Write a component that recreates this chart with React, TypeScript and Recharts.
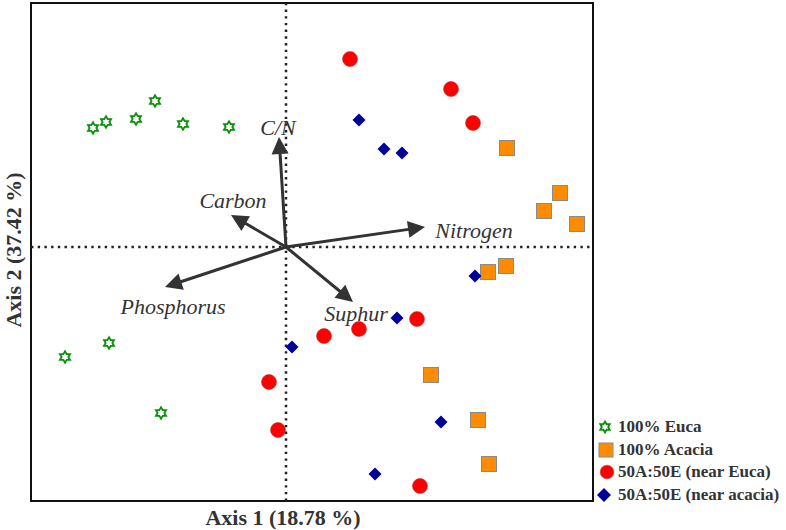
import { ScatterChart, Scatter, XAxis, YAxis, ReferenceLine, ReferenceDot, ReferenceArea, Legend } from 'recharts'

// PCA scores
const euca = [
  { x: -1.93, y: 1.19 }, { x: -1.80, y: 1.25 }, { x: -1.50, y: 1.28 },
  { x: -1.31, y: 1.46 }, { x: -1.03, y: 1.23 }, { x: -0.57, y: 1.20 },
  { x: -2.21, y: -1.10 }, { x: -1.77, y: -0.96 }, { x: -1.25, y: -1.66 }
]
const acacia = [
  { x: 2.21, y: 0.99 }, { x: 2.74, y: 0.54 }, { x: 2.58, y: 0.36 },
  { x: 2.91, y: 0.23 }, { x: 2.02, y: -0.25 }, { x: 2.20, y: -0.19 },
  { x: 1.45, y: -1.28 }, { x: 1.92, y: -1.73 }, { x: 2.03, y: -2.17 }
]
const nearEuca = [
  { x: 0.64, y: 1.88 }, { x: 1.65, y: 1.58 }, { x: 1.87, y: 1.24 },
  { x: 0.38, y: -0.89 }, { x: 0.73, y: -0.82 }, { x: 1.31, y: -0.72 },
  { x: 1.34, y: -2.39 }, { x: -0.17, y: -1.35 }, { x: -0.08, y: -1.83 }
]
const nearAcacia = [
  { x: 0.73, y: 1.27 }, { x: 0.98, y: 0.98 }, { x: 1.16, y: 0.94 },
  { x: 1.89, y: -0.29 }, { x: 1.11, y: -0.71 }, { x: 0.06, y: -1.00 },
  { x: 1.55, y: -1.75 }, { x: 0.89, y: -2.27 }
]

const seriesNames = ['100% Euca', '100% Acacia', '50A:50E (near Euca)', '50A:50E (near acacia)']

// variable loadings (arrow tips)
const vectors = [
  { name: 'C/N', x: -0.07, y: 1.10 },
  { name: 'Carbon', x: -0.55, y: 0.32 },
  { name: 'Nitrogen', x: 1.39, y: 0.20 },
  { name: 'Phosphorus', x: -1.21, y: -0.40 },
  { name: 'Suphur', x: 0.67, y: -0.55 }
]
const vectorLabelAt = [
  { x: -0.08, y: 1.20 },
  { x: -0.53, y: 0.47 },
  { x: 1.88, y: 0.17 },
  { x: -1.13, y: -0.59 },
  { x: 0.70, y: -0.66 }
]

const xDomain = [-2.55, 3.07]
const yDomain = [-2.54, 2.44]

const serif = '"Liberation Serif", "Times New Roman", serif'
const ink = '#333'

const starPoints = (cx: number, cy: number, R: number) => {
  const pts: string[] = []
  for (let k = 0; k < 12; k++) {
    const a = (-90 + k * 30) * Math.PI / 180
    const r = k % 2 === 0 ? R : R * 0.58
    pts.push(`${cx + r * Math.cos(a)},${cy + r * Math.sin(a)}`)
  }
  return pts.join(' ')
}

const StarShape = ({ cx, cy }: any) => (
  <polygon points={starPoints(cx, cy, 5.8)} fill="#fff" stroke="#0a8f0a" strokeWidth={1.8} />
)
const SquareShape = ({ cx, cy }: any) => (
  <rect x={cx - 7.5} y={cy - 7.5} width={15} height={15} fill="#ff8c00" stroke="#8a8a8a" strokeWidth={1} />
)
const CircleShape = ({ cx, cy }: any) => (
  <circle cx={cx} cy={cy} r={7.5} fill="#ff0000" stroke="#b33" strokeWidth={0.6} />
)
const DiamondShape = ({ cx, cy }: any) => (
  <polygon points={`${cx},${cy - 6.5} ${cx + 6.5},${cy} ${cx},${cy + 6.5} ${cx - 6.5},${cy}`} fill="#00009c" />
)

const Arrow = (p: any) => {
  const { x1, y1, x2, y2 } = p
  const dx = x2 - x1
  const dy = y2 - y1
  const len = Math.hypot(dx, dy) || 1
  const ux = dx / len
  const uy = dy / len
  const L = 17
  const W = 8.5
  const bx = x2 - ux * L
  const by = y2 - uy * L
  const pts = `${x2},${y2} ${bx - uy * W},${by + ux * W} ${bx + uy * W},${by - ux * W}`
  return (
    <g>
      <line x1={x1} y1={y1} x2={bx + ux * 2} y2={by + uy * 2} stroke={ink} strokeWidth={3} />
      <polygon points={pts} fill={ink} />
    </g>
  )
}

const VectorLabel = (text: string) => (p: any) => (
  <text x={p.cx} y={p.cy} textAnchor="middle" dominantBaseline="central"
    fontFamily={serif} fontStyle="italic" fontSize={22} fill={ink}>{text}</text>
)

const XTitle = () => (
  <text x={283} y={525} textAnchor="middle" fontFamily={serif} fontWeight="bold" fontSize={22} fill={ink}>
    Axis 1 (18.78 %)
  </text>
)
const YTitle = () => (
  <text x={21} y={250} textAnchor="middle" transform="rotate(-90 21 250)"
    fontFamily={serif} fontWeight="bold" fontSize={22} fill={ink}>
    Axis 2 (37.42 %)
  </text>
)

const legendMarker = (name: string) => {
  if (name === '100% Euca') return <polygon points={starPoints(9, 11, 5.5)} fill="#fff" stroke="#0a8f0a" strokeWidth={1.8} />
  if (name === '100% Acacia') return <rect x={3} y={4} width={14} height={14} fill="#ff8c00" stroke="#8a8a8a" strokeWidth={1} />
  if (name === '50A:50E (near Euca)') return <circle cx={11} cy={11} r={6.8} fill="#ff0000" stroke="#b33" strokeWidth={0.6} />
  return <polygon points="8,4 15,11 8,18 1,11" fill="#00009c" />
}

const renderLegend = () => (
  <div style={{ fontFamily: serif, fontWeight: 'bold', fontSize: 17, color: ink }}>
    {seriesNames.map(name => (
      <div key={name} style={{ display: 'flex', alignItems: 'center', height: 22.6, whiteSpace: 'nowrap' }}>
        <svg width={21} height={22} style={{ flex: 'none' }}>{legendMarker(name)}</svg>
        <span style={{ marginLeft: 1 }}>{name}</span>
      </div>
    ))}
  </div>
)

export default function App() {
  return (
    <div style={{ position: 'absolute', left: 0, top: 0 }}>
      <ScatterChart width={786} height={530} margin={{ top: 3, right: 193, left: 0, bottom: 0 }}>
        <XAxis type="number" dataKey="x" domain={xDomain} allowDataOverflow height={29}
          tick={false} tickLine={false} axisLine={false} label={<XTitle />} />
        <YAxis type="number" dataKey="y" domain={yDomain} allowDataOverflow width={31}
          tick={false} tickLine={false} axisLine={false} label={<YTitle />} />
        <ReferenceArea x1={xDomain[0]} x2={xDomain[1]} y1={yDomain[0]} y2={yDomain[1]}
          fill="none" fillOpacity={0} stroke="#111" strokeWidth={2} ifOverflow="visible" />
        <ReferenceLine x={0} stroke="#222" strokeWidth={2.5} strokeDasharray="2.4 4.3" />
        <ReferenceLine y={0} stroke="#222" strokeWidth={2.5} strokeDasharray="2.4 4.3" />
        {vectors.map(v => (
          <ReferenceLine key={v.name} segment={[{ x: 0, y: 0 }, { x: v.x, y: v.y }]}
            shape={Arrow} ifOverflow="visible" />
        ))}
        {vectors.map((v, i) => (
          <ReferenceDot key={'l' + v.name} x={vectorLabelAt[i].x} y={vectorLabelAt[i].y} r={0}
            shape={VectorLabel(v.name)} ifOverflow="visible" />
        ))}
        <Scatter name={seriesNames[0]} data={euca} shape={StarShape} fill="#0a8f0a" isAnimationActive={false} />
        <Scatter name={seriesNames[1]} data={acacia} shape={SquareShape} fill="#ff8c00" isAnimationActive={false} />
        <Scatter name={seriesNames[2]} data={nearEuca} shape={CircleShape} fill="#ff0000" isAnimationActive={false} />
        <Scatter name={seriesNames[3]} data={nearAcacia} shape={DiamondShape} fill="#00009c" isAnimationActive={false} />
        <Legend layout="vertical" align="center" verticalAlign="middle" content={renderLegend}
          wrapperStyle={{ left: 596, top: 416, width: 190 }} />
      </ScatterChart>
    </div>
  )
}
